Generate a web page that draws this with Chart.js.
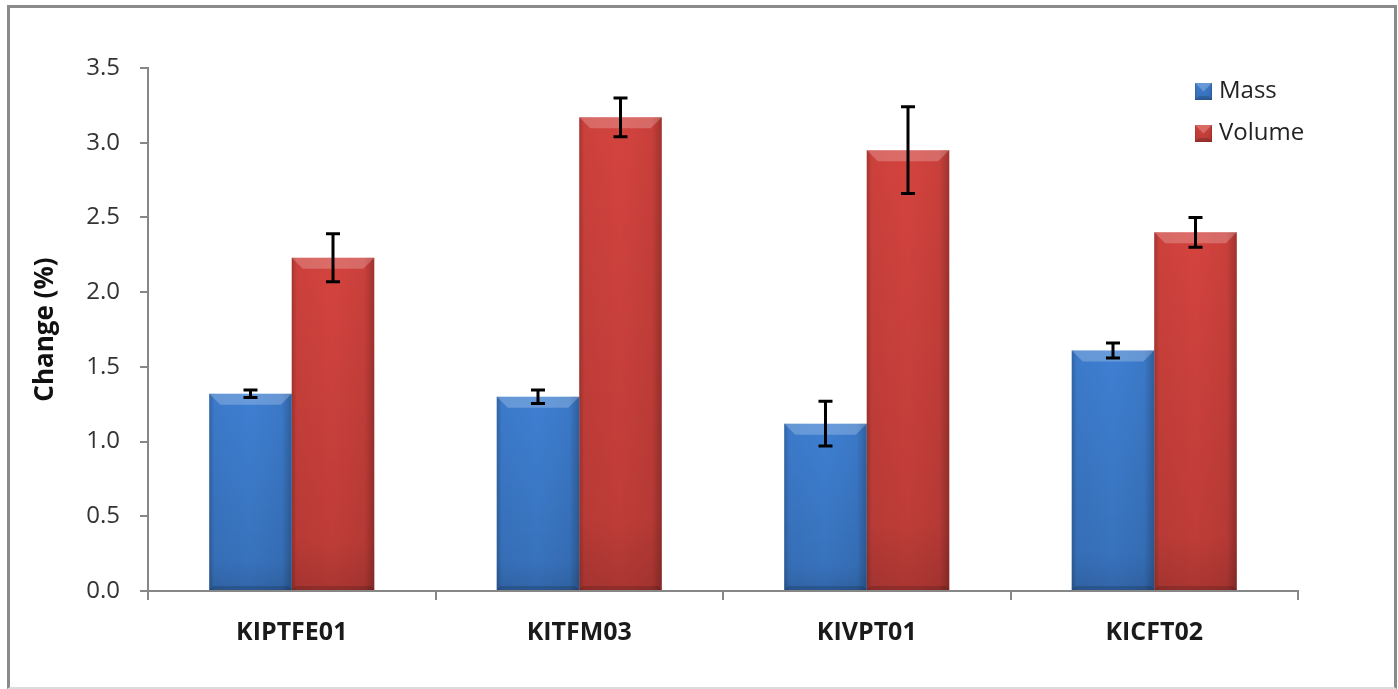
<!DOCTYPE html>
<html>
<head>
<meta charset="utf-8">
<script src="https://cdn.jsdelivr.net/npm/chart.js@4.4.1/dist/chart.umd.min.js"></script>
<style>
  html, body { margin: 0; padding: 0; background: #fff; }
  #wrap { position: relative; width: 1398px; height: 689px; }
  #frame { position: absolute; left: 7px; top: 5px; width: 1384px; height: 679px;
           border-top: 3px solid #8a8a8a; border-left: 3px solid #8a8a8a; border-right: 3px solid #8a8a8a;
           border-bottom: 2px solid #dcdcdc; pointer-events: none; }
  canvas { position: absolute; left: 0; top: 0; }
</style>
</head>
<body>
<div id="wrap">
  <canvas id="c" width="1398" height="689"></canvas>
  <div id="frame"></div>
</div>
<script>
const categories = ['KIPTFE01', 'KITFM03', 'KIVPT01', 'KICFT02'];
const massValues = [1.32, 1.30, 1.12, 1.61];
const massErrors = [0.025, 0.045, 0.15, 0.05];
const volumeValues = [2.23, 3.17, 2.95, 2.40];
const volumeErrors = [0.16, 0.13, 0.29, 0.10];
const yTicks = [0, 0.5, 1.0, 1.5, 2.0, 2.5, 3.0, 3.5];
const seriesNames = ['Mass', 'Volume'];

const FONT = "'Open Sans', 'Liberation Sans', sans-serif";
const AXIS_COLOR = '#878787';

const bevelPlugin = {
  id: 'bevel',
  afterDatasetsDraw(chart) {
    const ctx = chart.ctx;
    chart.data.datasets.forEach((ds, di) => {
      const meta = chart.getDatasetMeta(di);
      meta.data.forEach((el) => {
        const p = el.getProps(['x', 'y', 'base', 'width'], true);
        const l = p.x - p.width / 2, r = p.x + p.width / 2, t = p.y, b = p.base;
        drawShade(ctx, l, r, t, b);
      });
    });
  }
};

function drawShade(ctx, l, r, t, b) {
  const w = r - l, h = b - t, bv = Math.min(11, h / 2);
  ctx.save();
  // horizontal edge shading
  const g = ctx.createLinearGradient(l, 0, r, 0);
  g.addColorStop(0, 'rgba(0,0,0,0.22)');
  g.addColorStop(0.06, 'rgba(0,0,0,0.04)');
  g.addColorStop(0.5, 'rgba(0,0,0,0)');
  g.addColorStop(0.88, 'rgba(0,0,0,0.05)');
  g.addColorStop(1, 'rgba(0,0,0,0.25)');
  ctx.fillStyle = g;
  ctx.fillRect(l, t, w, h);
  // vertical darkening
  const gv = ctx.createLinearGradient(0, t, 0, b);
  gv.addColorStop(0, 'rgba(0,0,0,0)');
  gv.addColorStop(0.85, 'rgba(0,0,0,0.10)');
  gv.addColorStop(1, 'rgba(0,0,0,0.2)');
  ctx.fillStyle = gv;
  ctx.fillRect(l, t, w, h);
  // top bevel
  ctx.beginPath();
  ctx.moveTo(l, t); ctx.lineTo(r, t); ctx.lineTo(r - bv, t + bv); ctx.lineTo(l + bv, t + bv); ctx.closePath();
  ctx.fillStyle = 'rgba(255,255,255,0.22)';
  ctx.fill();
  // bottom bevel
  ctx.beginPath();
  ctx.moveTo(l, b); ctx.lineTo(r, b); ctx.lineTo(r - 4, b - 4); ctx.lineTo(l + 4, b - 4); ctx.closePath();
  ctx.fillStyle = 'rgba(0,0,0,0.15)';
  ctx.fill();
  ctx.restore();
}

const errorBarPlugin = {
  id: 'errorBars',
  afterDatasetsDraw(chart) {
    const ctx = chart.ctx;
    const ys = chart.scales.y;
    chart.data.datasets.forEach((ds, di) => {
      const meta = chart.getDatasetMeta(di);
      meta.data.forEach((el, i) => {
        const v = ds.data[i], e = ds.errors[i];
        const x = el.x;
        const y1 = ys.getPixelForValue(v + e);
        const y2 = ys.getPixelForValue(v - e);
        const cap = 7;
        ctx.save();
        ctx.strokeStyle = '#000';
        ctx.lineWidth = 3;
        ctx.beginPath();
        ctx.moveTo(x, y1); ctx.lineTo(x, y2);
        ctx.moveTo(x - cap, y1); ctx.lineTo(x + cap, y1);
        ctx.moveTo(x - cap, y2); ctx.lineTo(x + cap, y2);
        ctx.stroke();
        ctx.restore();
      });
    });
  }
};

const legendPlugin = {
  id: 'customLegend',
  afterDraw(chart) {
    const ctx = chart.ctx;
    chart.data.datasets.forEach((ds, i) => {
      const bx = 1195, by = 83 + i * 42, s = 17;
      ctx.save();
      ctx.fillStyle = ds.backgroundColor;
      ctx.fillRect(bx, by, s, s);
      drawShade(ctx, bx, bx + s, by, by + s);
      ctx.fillStyle = '#222';
      ctx.font = '24px ' + FONT;
      ctx.textBaseline = 'middle';
      ctx.textAlign = 'left';
      ctx.fillText(ds.label, 1219, by + s / 2);
      ctx.restore();
    });
  }
};

new Chart(document.getElementById('c'), {
  type: 'bar',
  data: {
    labels: categories,
    datasets: [
      { label: seriesNames[0], data: massValues, errors: massErrors, backgroundColor: '#3e7fd2' },
      { label: seriesNames[1], data: volumeValues, errors: volumeErrors, backgroundColor: '#d4433e' }
    ]
  },
  options: {
    responsive: false,
    animation: false,
    devicePixelRatio: 1,
    categoryPercentage: 0.574,
    barPercentage: 1.0,
    layout: { padding: { left: 30, right: 100, top: 68, bottom: 0 } },
    plugins: { legend: { display: false }, tooltip: { enabled: false } },
    scales: {
      x: {
        offset: true,
        grid: { offset: true, drawOnChartArea: false, drawTicks: true, tickLength: 9, color: AXIS_COLOR, lineWidth: 2 },
        border: { color: AXIS_COLOR, width: 2 },
        ticks: { color: '#1a1a1a', font: { family: FONT, size: 25, weight: 'bold' }, padding: 18, maxRotation: 0 },
        afterFit(scale) { scale.height = 98; }
      },
      y: {
        min: 0, max: 3.5,
        afterBuildTicks(scale) { scale.ticks = yTicks.map(v => ({ value: v })); },
        grid: { drawOnChartArea: false, drawTicks: true, tickLength: 8, color: AXIS_COLOR, lineWidth: 2 },
        border: { color: AXIS_COLOR, width: 2 },
        ticks: { color: '#333', font: { family: FONT, size: 24 }, padding: 20,
                 callback: (v) => Number(v).toFixed(1) },
        title: { display: true, text: 'Change (%)', color: '#111', padding: 0,
                 font: { family: FONT, size: 26, weight: 'bold' } },
        afterFit(scale) { scale.width = 118; }
      }
    }
  },
  plugins: [bevelPlugin, errorBarPlugin, legendPlugin]
});
</script>
</body>
</html>
